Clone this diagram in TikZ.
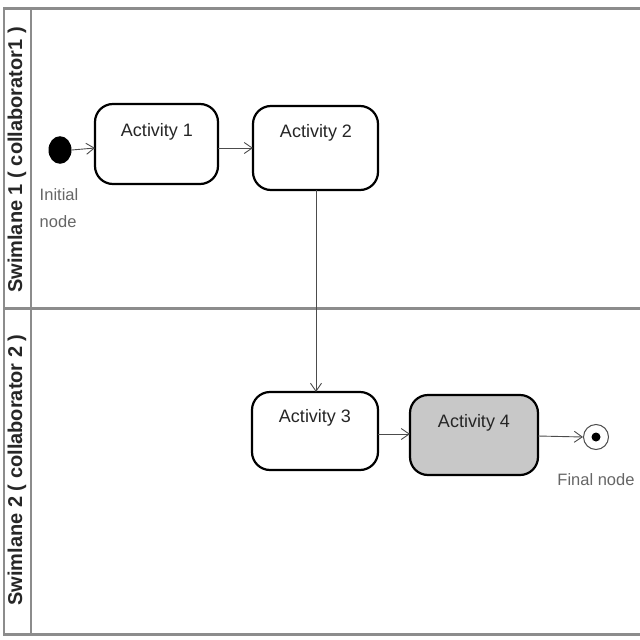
\documentclass[tikz,border=0pt]{standalone}
\usepackage{fontspec}
\setmainfont{Liberation Sans}
\usetikzlibrary{arrows.meta}
\definecolor{frame}{HTML}{8C8C8C}
\definecolor{a4fill}{HTML}{C8C8C8}
\tikzset{
  act/.style={draw=black, line width=2.2pt, rounded corners=18pt, fill=white},
  actlabel/.style={font=\fontsize{18}{20}\selectfont, text=black!85},
  flow/.style={draw=black!70, line width=0.9pt, -{Straight Barb[length=8pt,width=11pt]}},
  lane/.style={draw=frame, line width=3pt},
  lanethin/.style={draw=frame, line width=1.6pt},
  lanetitle/.style={font=\fontsize{20}{22}\selectfont\bfseries, rotate=90, text=black!85},
  caption/.style={font=\fontsize{16.5}{27}\selectfont, text=black!60, align=left}
}
\begin{document}
\begin{tikzpicture}[x=1pt,y=-1pt]
\useasboundingbox (0,0) rectangle (640,640);
% frame
\draw[lane] (3,8) -- (640,8);
\draw[lane] (3,308) -- (640,308);
\draw[lane] (3,634) -- (640,634);
\draw[lanethin] (4,8) -- (4,634);
\draw[lanethin] (31,8) -- (31,634);
\node[lanetitle] (t1) at (17,160) {Swimlane 1 ( collaborator1 )};
\node[lanetitle] (t2) at (17,470) {Swimlane 2 ( collaborator 2 )};
% activities
\draw[act] (95,104) rectangle (218,184);
\coordinate (a1w) at (95,148); \coordinate (a1e) at (218,148);
\node[actlabel] (l1) at (157,132) {Activity 1};
\draw[act] (253,106) rectangle (378,190);
\coordinate (a2w) at (253,148); \coordinate (a2s) at (316,190);
\node[actlabel] (l2) at (316,133) {Activity 2};
\draw[act] (252,392) rectangle (378,470);
\coordinate (a3n) at (316,392); \coordinate (a3e) at (378,434);
\node[actlabel] (l3) at (315,418) {Activity 3};
\draw[act, fill=a4fill] (410,395) rectangle (538,475);
\coordinate (a4w) at (410,434); \coordinate (a4e) at (538,436);
\node[actlabel] (l4) at (474,423) {Activity 4};
% initial / final
\node[circle, fill=black, minimum width=23pt, minimum height=23pt, inner sep=0pt, yscale=1.2] (init) at (60,150) {};
\node[caption] (initl) at (59,208) {Initial\\node};
\node[circle, draw=black!70, line width=1pt, minimum size=25pt, inner sep=0pt] (fin) at (596,437) {};
\node[circle, fill=black, minimum size=9pt, inner sep=0pt] (fincore) at (fin) {};
\node[caption] (finl) at (596,480) {Final node};
% flows
\draw[flow] (init.east) -- (a1w);
\draw[flow] (a1e) -- (a2w);
\draw[flow] (a2s) -- (a3n);
\draw[flow] (a3e) -- (a4w);
\draw[flow] (a4e) -- (fin.west);
\end{tikzpicture}
\end{document}
